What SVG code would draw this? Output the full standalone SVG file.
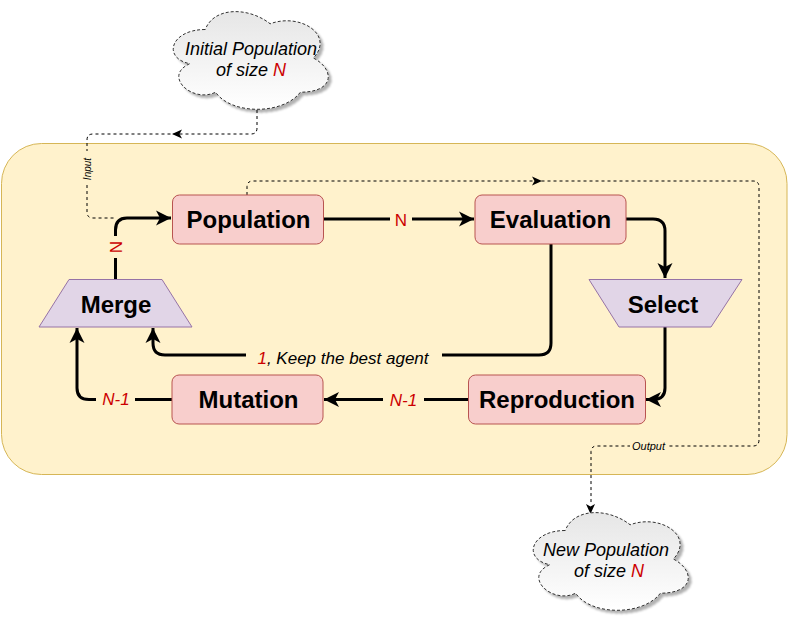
<svg xmlns="http://www.w3.org/2000/svg" xmlns:xlink="http://www.w3.org/1999/xlink" width="789" height="621" viewBox="0 0 789 621">
  <style>
    text { font-family: "Liberation Sans", Arial, sans-serif; text-anchor: middle; fill: #000; }
    .title { font-size: 24px; font-weight: bold; }
    .proc { fill: #f8cecc; stroke: #b85450; stroke-width: 1; }
    .gate { fill: #e1d5e7; stroke: #9673a6; stroke-width: 1; }
    .cloud { fill: url(#cloudFill); stroke: #333; stroke-width: 1; stroke-dasharray: 3 2; filter: url(#cloudShadow); }
    .cloudText { font-size: 18px; font-style: italic; }
    .flow { fill: none; stroke: #000; stroke-width: 3; stroke-linejoin: round; }
    .thin { fill: none; stroke: #000; stroke-width: 1; stroke-dasharray: 3 3; }
    .tag { font-size: 17px; font-style: italic; }
    .red { fill: #cc0000; }
    .bg { fill: #fff2cc; }
  </style>
  <defs>
    <linearGradient id="cloudFill" x1="0" y1="0" x2="0" y2="1">
      <stop offset="0" stop-color="#e6e6e6"/>
      <stop offset="1" stop-color="#ffffff"/>
    </linearGradient>
    <filter id="cloudShadow" x="-10%" y="-10%" width="125%" height="125%">
      <feDropShadow dx="3" dy="3" stdDeviation="0.8" flood-color="#000" flood-opacity="0.3"/>
    </filter>
    <marker id="head" markerUnits="userSpaceOnUse" markerWidth="16" markerHeight="18" refX="15" refY="9" orient="auto">
      <path d="M15 9 L0 1.5 L4 9 L0 16.5 Z" fill="#000"/>
    </marker>
    <path id="cloudShape" d="M43.25 28.5 C8.65 28.5 0 57 27.7 62.7 C0 75.2 31.1 102.6 53.6 91.2 C69.2 114 121.1 114 138.4 91.2 C173 91.2 173 68.4 151.4 57 C173 34.2 138.4 11.4 108.1 22.8 C86.5 5.7 51.9 5.7 43.25 28.5 Z"/>
  </defs>

  <rect id="container" x="1.500" y="143.500" width="785.500" height="331" rx="40" ry="40" fill="#fff2cc" stroke="#d6b656" stroke-width="1"/>

  <g id="connectors">
    <!-- dashed input and output routes -->
    <path class="thin" d="M257 110 V128 Q257 134 251 134 H93 Q87 134 87 140 V212 Q87 218 93 218 H116"/>
    <path d="M172 134 L182 129.500 L179.500 134 L182 138.500 Z" fill="#000"/>
    <path class="thin" d="M247 195 V187 Q247 181 253 181 H753 Q759 181 759 187 V440 Q759 446 753 446 H597 Q591 446 591 452 V505"/>
    <path d="M542 181 L532 176.500 L534.500 181 L532 185.500 Z" fill="#000"/>
    <path d="M590.500 514 L586 504 L590.500 506.500 L595 504 Z" fill="#000"/>

    <!-- main loop -->
    <path class="flow" d="M115.500 279 V230 Q115.500 218 127 218 H171" marker-end="url(#head)"/>
    <path class="flow" d="M324 219 H474" marker-end="url(#head)"/>
    <path class="flow" d="M626 219 H653 Q665 219 665 231 V278" marker-end="url(#head)"/>
    <path class="flow" d="M665 327 V388 Q665 399.500 653 399.500 H646" marker-end="url(#head)"/>
    <path class="flow" d="M468 399.500 H324" marker-end="url(#head)"/>
    <path class="flow" d="M172 399.500 H89 Q77 399.500 77 388 V328" marker-end="url(#head)"/>
    <path class="flow" d="M551 244 V343 Q551 355 539 355 H165 Q153 355 153 343 V328" marker-end="url(#head)"/>
  </g>

  <g id="connector-labels">
    <rect class="bg" x="80" y="151" width="16" height="34"/>
    <text transform="translate(90.500 169) rotate(-90)" font-size="10" font-style="italic">Input</text>
    <rect class="bg" x="630" y="440" width="37" height="12"/>
    <text x="648.500" y="450" font-size="11" font-style="italic">Output</text>
    <rect class="bg" x="107" y="236" width="18" height="22"/>
    <text class="red" transform="translate(121.500 247) rotate(-90)" font-size="17">N</text>
    <rect class="bg" x="390" y="210" width="22" height="20"/>
    <text class="red" x="401" y="226" font-size="17">N</text>
    <rect class="bg" x="246" y="346" width="196" height="22"/>
    <text class="tag" x="343" y="364"><tspan class="red">1</tspan>, Keep the best agent</text>
    <rect class="bg" x="383" y="390" width="41" height="20"/>
    <text class="tag red" x="403.500" y="406">N-1</text>
    <rect class="bg" x="96" y="390" width="39" height="20"/>
    <text class="tag red" x="116" y="405">N-1</text>
  </g>

  <g id="cloud-initial">
    <use xlink:href="#cloudShape" href="#cloudShape" class="cloud" x="162" y="1"/>
    <text class="cloudText" x="251" y="55">Initial Population</text>
    <text class="cloudText" x="251" y="76">of size <tspan class="red">N</tspan></text>
  </g>
  <g id="cloud-new">
    <use xlink:href="#cloudShape" href="#cloudShape" class="cloud" x="522" y="502"/>
    <text class="cloudText" x="606" y="556">New Population</text>
    <text class="cloudText" x="609" y="577">of size <tspan class="red">N</tspan></text>
  </g>

  <g id="population">
    <rect class="proc" x="172.500" y="195" width="151" height="49" rx="7"/>
    <text class="title" x="248.500" y="228">Population</text>
  </g>
  <g id="evaluation">
    <rect class="proc" x="475" y="195" width="151" height="49" rx="7"/>
    <text class="title" x="550.500" y="228">Evaluation</text>
  </g>
  <g id="reproduction">
    <rect class="proc" x="468.500" y="375" width="177" height="49" rx="7"/>
    <text class="title" x="557" y="408">Reproduction</text>
  </g>
  <g id="mutation">
    <rect class="proc" x="172" y="375" width="151" height="49" rx="7"/>
    <text class="title" x="248.500" y="408">Mutation</text>
  </g>
  <g id="merge">
    <polygon class="gate" points="69,279.500 162,279.500 192,327 39,327"/>
    <text class="title" x="116" y="313">Merge</text>
  </g>
  <g id="select">
    <polygon class="gate" points="589,279.500 742,279.500 711,327 619,327"/>
    <text class="title" x="663" y="313">Select</text>
  </g>
</svg>
